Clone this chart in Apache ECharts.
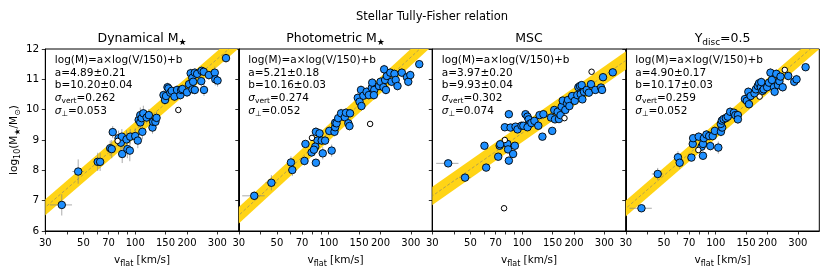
<!DOCTYPE html>
<html><head><meta charset="utf-8">
<script src="https://cdn.jsdelivr.net/npm/echarts@6/dist/echarts.min.js"></script>
<style>html,body{margin:0;padding:0;background:#fff}#c{width:830px;height:275px}</style>
</head><body><div id="c"></div><script>
// ---- data ----
const vTickLabels = [30, 50, 70, 100, 150, 200, 300];
const vTicks = [30, 40, 50, 60, 70, 80, 90, 100, 150, 200, 300];
const mTicks = [6, 7, 8, 9, 10, 11, 12];
const panelNames = ['Dynamical M{s|★}', 'Photometric M{s|★}', 'MSC', 'Υ{s|disc}=0.5'];
const fitA = [[4.89, 0.21], [5.21, 0.18], [3.97, 0.20], [4.90, 0.17]];
const fitB = [[10.20, 0.04], [10.16, 0.03], [9.93, 0.04], [10.17, 0.03]];
const sigVert = [0.262, 0.274, 0.302, 0.259];
const sigPerp = [0.053, 0.052, 0.074, 0.052];

// points: [v_flat, log10 M, err logM, err v]
const dynPts = [
[37.4,6.86,0.35,5.5],[46.6,7.96,0.4,3.5],[60.5,8.28,0.3,1.5],[62.5,8.28,0.3,1.5],
[71.5,8.73,0.25,0],[73,8.70,0.3,0],[74,9.26,0.2,0],[80,9.06,0.25,0],[82.5,8.91,0.3,0],
[83.6,9.11,0.25,0],[84,8.54,0.3,0],[89,9.02,0.3,0],[90,8.70,0.3,0],[93,8.65,0.35,0],
[93.5,9.11,0.25,0],[100,9.13,0.25,0],[103.5,8.98,0.25,0],[104.7,9.66,0.25,0],[107,9.82,0.25,0],
[107,9.58,0.2,0],[109,9.72,0.2,0],[110,9.27,0.25,0],[111.5,9.88,0.25,0],[116.5,9.74,0.2,0],
[120,9.82,0.2,0],[126,9.41,0.2,0],[127,9.60,0.2,0],[131,9.60,0.2,0],[133,9.73,0.2,0],
[146,10.48,0.15,0],[149,10.32,0.15,0],[151,10.45,0.15,0],[154,10.74,0.15,0],[156,10.70,0.15,0],
[160,10.56,0.15,0],[163,10.62,0.15,0],[169,10.43,0.15,0],[175,10.65,0.15,0],[183,10.48,0.15,0],
[185,10.65,0.15,0],[188,10.68,0.15,0],[200,10.57,0.15,0],[205.5,10.84,0.15,0],[210,11.20,0.15,0],
[214.6,11.05,0.15,0],[215,10.67,0.15,0],[217,10.92,0.15,0],[222,11.22,0.15,0],[222,10.65,0.15,0],
[229,11.18,0.15,0],[242,10.94,0.15,0],[243,11.28,0.15,0],[250,11.25,0.15,0],[251,10.65,0.2,0],
[268,11.14,0.15,0],[290,11.22,0.2,0],[292,11.00,0.2,0],[301,10.96,0.2,0],[337,11.70,0.15,0]
];
const dynOpen = [[178, 9.99], [79, 8.97]];

const photPts = [
[36.9,7.16,0.15,5.5],[46.4,7.59,0.25,3.5],[60.3,8.26,0.2,0],[61.4,8.01,0.2,0],[72.3,8.31,0.15,0],
[73.2,8.87,0.1,0],[84.2,9.27,0.15,0],[88.4,9.22,0.15,0],[86,8.98,0.15,0],[91,8.98,0.15,0],
[95.2,8.98,0.15,0],[83.5,8.78,0.15,0],[79.5,8.59,0.15,0],[82,8.68,0.15,0],[84.2,8.25,0.1,0],
[92.3,8.56,0.2,0],[104,8.65,0.2,0],[100.7,9.30,0.15,0],[108,9.27,0.15,0],[109,9.42,0.15,0],
[109,9.57,0.15,0],[111,9.55,0.15,0],[113.5,9.72,0.15,0],[118,9.88,0.15,0],[124,9.75,0.15,0],
[126,9.90,0.15,0],[130,9.55,0.15,0],[132,9.46,0.15,0],[133,9.88,0.15,0],[147.5,10.39,0.15,0],
[151,10.26,0.15,0],[155,10.12,0.15,0],[154,10.65,0.15,0],[159,10.46,0.15,0],[166,10.59,0.15,0],
[171,10.48,0.15,0],[178,10.72,0.15,0],[179,10.89,0.15,0],[184,10.65,0.15,0],[183,10.48,0.15,0],
[196,10.78,0.15,0],[200,10.92,0.15,0],[208,10.74,0.15,0],[212.6,10.98,0.15,0],[217.7,11.11,0.15,0],
[215,10.65,0.15,0],[210,11.33,0.15,0],[228,11.22,0.15,0],[232,10.92,0.15,0],[241,11.18,0.15,0],
[245,10.98,0.15,0],[251,10.78,0.15,0],[266,11.22,0.15,0],[285,11.07,0.15,0],[290,10.92,0.15,0],
[298,11.14,0.15,0],[336,11.50,0.1,0]
];
const photOpen = [[79.9, 9.07], [174, 9.53]];

const mscPts = [
[37.1,8.23,0.05,5.5],[46.5,7.76,0.08,3.5],[60.3,8.81,0.1,0],[61.7,8.09,0.1,0],[72.5,8.45,0.08,0],
[73.9,8.81,0.08,0],[74.5,8.86,0.08,0],[79.2,9.42,0.05,0],[83.6,9.85,0.08,0],[85.5,9.41,0.05,0],
[82,8.87,0.08,0],[82.7,8.69,0.08,0],[83.6,8.32,0.08,3],[88.5,8.54,0.08,3],[90.6,8.81,0.08,0],
[91.4,9.44,0.05,0],[93.9,9.35,0.05,0],[99,9.47,0.05,0],[101.5,9.47,0.05,0],[104.5,9.85,0.05,4],
[107.3,9.77,0.05,0],[109,9.68,0.05,0],[110.5,9.53,0.05,0],[107.3,9.42,0.05,0],[113,9.56,0.05,0],
[117.7,9.63,0.05,0],[124,9.47,0.05,0],[126,9.82,0.05,0],[132.7,9.85,0.05,0],[131,9.11,0.05,0],
[149.4,9.30,0.05,0],[147,9.74,0.05,0],[153.5,9.99,0.05,0],[155,9.68,0.05,0],[160.6,9.93,0.05,0],
[163.5,9.69,0.05,0],[167,9.82,0.05,0],[169.5,10.10,0.05,0],[172,10.30,0.05,0],[178,9.99,0.05,0],
[182,10.21,0.05,0],[184.5,10.32,0.05,0],[188,10.12,0.05,0],[195,10.45,0.05,0],[202,10.29,0.05,0],
[209,10.48,0.05,0],[212,10.74,0.05,0],[216.6,10.78,0.05,0],[221.6,10.81,0.05,0],[218.7,10.51,0.05,0],
[223.6,10.34,0.05,0],[228.5,10.59,0.05,0],[237,10.65,0.05,0],[244,10.56,0.05,0],[251,10.84,0.05,0],
[266,10.65,0.05,0],[287,10.73,0.05,0],[291,10.65,0.08,0],[295,11.07,0.05,0],[336,11.23,0.05,0]
];
const mscOpen = [[79.2, 9.0], [176, 9.72], [253, 11.25], [78.4, 6.75]];

const upsPts = [
[37.0,6.75,0.08,5.5],[46.0,7.88,0.2,3.5],[60.3,8.43,0.2,0],[61.7,8.25,0.2,0],[72.2,8.42,0.1,0],
[73.5,8.87,0.1,0],[73.9,9.06,0.1,0],[79.6,9.11,0.15,0],[82.7,8.78,0.15,0],[84.3,8.87,0.15,0],
[84.3,8.48,0.1,0],[85.3,9.06,0.15,0],[88.3,9.18,0.15,0],[91.6,9.13,0.15,0],[96,9.13,0.15,0],
[93,8.80,0.15,0],[98.8,9.30,0.15,0],[103.5,8.75,0.2,0],[107.2,9.27,0.15,0],[109,9.41,0.15,0],
[107,9.53,0.15,0],[108.5,9.64,0.15,0],[111,9.69,0.15,0],[114.5,9.72,0.15,0],[117.5,9.77,0.15,0],
[121.3,9.93,0.15,0],[127.6,9.90,0.15,0],[130,9.82,0.15,0],[134.5,9.82,0.15,0],[134.5,9.68,0.15,0],
[147.8,10.35,0.15,0],[151.5,10.29,0.15,0],[154.7,10.59,0.15,0],[156,10.18,0.15,0],[159.5,10.45,0.15,0],
[168,10.54,0.15,0],[171,10.67,0.15,0],[175.5,10.78,0.15,0],[178.6,10.87,0.15,0],[183,10.74,0.15,0],
[184,10.91,0.15,0],[187,10.62,0.15,0],[190,10.67,0.15,0],[199,10.74,0.15,0],[204,10.89,0.15,0],
[208,11.22,0.15,0],[212,10.98,0.15,0],[218,10.74,0.15,0],[220,10.59,0.15,0],[225,11.18,0.15,0],
[230,10.81,0.15,0],[234.5,10.94,0.15,0],[238,11.09,0.15,0],[245,10.74,0.15,0],[264,11.11,0.15,0],
[286,10.92,0.15,0],[295,11.0,0.15,0],[333,11.40,0.1,0]
];
const upsOpen = [[79.2, 8.67], [180, 10.43], [252, 11.31]];

const allPts = [dynPts, photPts, mscPts, upsPts];
const allOpen = [dynOpen, photOpen, mscOpen, upsOpen];

// ---- layout ----
const FONT = 'DejaVu Sans';
const lefts = [45.3, 238.8, 432.3, 625.8];
const W = 193.5, TOP = 49, H = 182;
const L = Math.log10;

const chart = echarts.init(document.getElementById('c'), null, {renderer: 'canvas'});
const grids = [], xAxes = [], yAxes = [], series = [], graphics = [];
const subRich = {s: {fontSize: 8, verticalAlign: 'bottom', lineHeight: 15, fontFamily: FONT, color: '#000'}};

for (let i = 0; i < 4; i++) {
  grids.push({left: lefts[i], top: TOP, width: W, height: H, show: true, borderColor: '#000', borderWidth: 1, backgroundColor: 'transparent'});
  xAxes.push({
    gridIndex: i, type: 'value', min: L(30), max: L(400),
    axisLine: {show: true, onZero: false, lineStyle: {color: '#000', width: 1}},
    axisTick: {show: true, customValues: vTicks.map(L), length: 3.5, lineStyle: {color: '#000', width: 0.8}},
    axisLabel: {show: true, customValues: vTickLabels.map(L), formatter: v => String(Math.round(Math.pow(10, v))),
      color: '#000', fontSize: 10, margin: 7, fontFamily: FONT, hideOverlap: false},
    splitLine: {show: false},
    name: 'v{s|flat} [km/s]', nameLocation: 'middle', nameGap: 17,
    nameTextStyle: {fontSize: 10.5, fontFamily: FONT, color: '#000', lineHeight: 15, rich: subRich}
  });
  yAxes.push({
    gridIndex: i, type: 'value', min: 6, max: 12, interval: 1,
    axisLine: {show: true, onZero: false, lineStyle: {color: '#000', width: 1}},
    axisTick: {show: true, length: 3.5, lineStyle: {color: '#000', width: 0.8}},
    axisLabel: {show: i === 0, color: '#000', fontSize: 10.5, margin: 6, fontFamily: FONT},
    splitLine: {show: false},
    name: i === 0 ? 'log{s|10}(M{s|★}/M{s|⊙})' : '', nameLocation: 'middle', nameGap: 22, nameRotate: 90,
    nameTextStyle: {fontSize: 10.5, fontFamily: FONT, color: '#000', lineHeight: 15, rich: subRich}
  });

  const a = fitA[i][0], b = fitB[i][0], s = sigVert[i];
  // band + fit line
  series.push({
    type: 'custom', xAxisIndex: i, yAxisIndex: i, silent: true, clip: true, z: 1,
    data: [[L(30), b]], encode: {x: 0, y: 1},
    renderItem: function (params, api) {
      const x0 = L(25), x1 = L(450);
      const f = lx => b + a * (lx - L(150));
      const p = [api.coord([x0, f(x0) + s]), api.coord([x1, f(x1) + s]), api.coord([x1, f(x1) - s]), api.coord([x0, f(x0) - s])];
      const c0 = api.coord([x0, f(x0)]), c1 = api.coord([x1, f(x1)]);
      const cs = params.coordSys;
      return {
        type: 'group',
        clipPath: {type: 'rect', shape: {x: cs.x, y: cs.y, width: cs.width, height: cs.height}},
        children: [
          {type: 'polygon', shape: {points: p}, style: {fill: '#FFD416', stroke: null}},
          {type: 'line', shape: {x1: c0[0], y1: c0[1], x2: c1[0], y2: c1[1]},
            style: {stroke: 'rgba(120,120,120,0.7)', lineWidth: 0.8, lineDash: [3, 2]}}
        ]
      };
    }
  });
  // error bars
  const eData = allPts[i].map(p => [L(p[0]), p[1], p[2], p[3] > 0 ? L(p[0] - p[3]) : L(p[0]), p[3] > 0 ? L(p[0] + p[3]) : L(p[0])]);
  series.push({
    type: 'custom', xAxisIndex: i, yAxisIndex: i, silent: true, z: 2,
    data: eData, encode: {x: 0, y: 1},
    renderItem: function (params, api) {
      const lx = api.value(0), m = api.value(1), e = api.value(2), xl = api.value(3), xh = api.value(4);
      const t = api.coord([lx, m + e]), bt = api.coord([lx, m - e]);
      const ch = [{type: 'line', shape: {x1: t[0], y1: t[1], x2: bt[0], y2: bt[1]}, style: {stroke: 'rgba(128,128,128,0.65)', lineWidth: 1}}];
      if (xh > xl) {
        const l = api.coord([xl, m]), r = api.coord([xh, m]);
        ch.push({type: 'line', shape: {x1: l[0], y1: l[1], x2: r[0], y2: r[1]}, style: {stroke: 'rgba(128,128,128,0.65)', lineWidth: 1}});
      }
      return {type: 'group', children: ch};
    }
  });
  series.push({
    type: 'scatter', xAxisIndex: i, yAxisIndex: i, z: 3, symbolSize: 7.5,
    data: allPts[i].map(p => [L(p[0]), p[1]]),
    itemStyle: {color: '#1E8FFF', borderColor: '#000', borderWidth: 0.9, opacity: 1}
  });
  series.push({
    type: 'scatter', xAxisIndex: i, yAxisIndex: i, z: 3, symbolSize: 5.5,
    data: allOpen[i].map(p => [L(p[0]), p[1]]),
    itemStyle: {color: '#fff', borderColor: '#000', borderWidth: 1, opacity: 1}
  });

  // panel title
  graphics.push({type: 'text', x: lefts[i] + W / 2, y: 39, z: 10,
    style: {text: panelNames[i], fontSize: 12.5, fontFamily: FONT, fill: '#000', align: 'center', verticalAlign: 'middle',
      lineHeight: 17, rich: {s: {fontSize: 9, verticalAlign: 'bottom', lineHeight: 17, fontFamily: FONT}}}});
  // annotation text
  const lines = [
    'log(M)=a×log(V/150)+b',
    'a=' + fitA[i][0].toFixed(2) + '±' + fitA[i][1].toFixed(2),
    'b=' + fitB[i][0].toFixed(2) + '±' + fitB[i][1].toFixed(2),
    '{i|σ}{s|vert}=' + sigVert[i].toFixed(3),
    '{i|σ}{s|⊥}=' + sigPerp[i].toFixed(3)
  ];
  lines.forEach((t, k) => {
    graphics.push({type: 'text', x: lefts[i] + 9.5, y: 60 + k * 12.8, z: 10,
      style: {text: t, fontSize: 10.5, fontFamily: FONT, fill: '#000', align: 'left', verticalAlign: 'middle', lineHeight: 14,
        rich: {s: {fontSize: 7.5, verticalAlign: 'bottom', lineHeight: 14, fontFamily: FONT},
               i: {fontSize: 10.5, fontStyle: 'italic', lineHeight: 14, fontFamily: FONT}}}});
  });
}
graphics.push({type: 'text', x: 432, y: 17, z: 10,
  style: {text: 'Stellar Tully-Fisher relation', fontSize: 11.5, fontFamily: FONT, fill: '#000', align: 'center', verticalAlign: 'middle'}});

chart.setOption({
  animation: false,
  backgroundColor: '#fff',
  grid: grids, xAxis: xAxes, yAxis: yAxes, series: series, graphic: graphics
});
</script></body></html>
